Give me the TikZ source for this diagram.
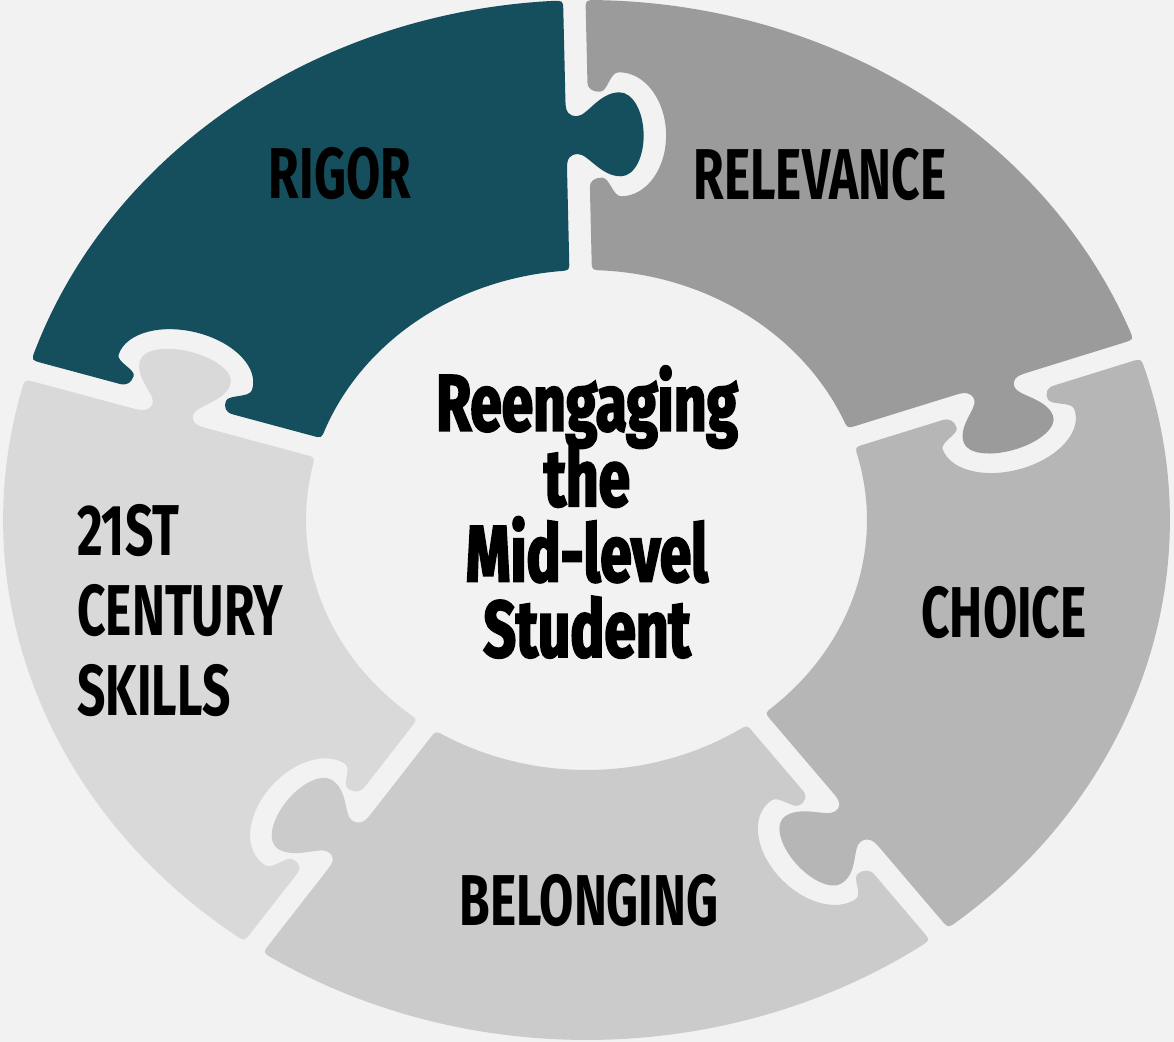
\documentclass[tikz,border=0pt]{standalone}
\usepackage{fontspec}
\setmainfont{Fira Sans}
\newfontfamily\labelfont[FakeStretch=0.69]{Fira Sans}
\newfontfamily\titlefont[FakeStretch=0.71,FakeBold=2.5]{Fira Sans}

\definecolor{bgcol}{HTML}{F2F2F2}
\definecolor{rigorcol}{HTML}{154F5D}
\definecolor{relevcol}{HTML}{9B9B9B}
\definecolor{choicecol}{HTML}{B6B6B6}
\definecolor{belongcol}{HTML}{CBCBCB}
\definecolor{skillcol}{HTML}{D9D9D9}

% one piece of the ring: #1 = angle of its clockwise edge (tab side), #2 = colour
\newcommand{\puzzlepiece}[2]{%
\fill[#2, rotate=#1]
  (4.5:250) .. controls (249.8,10) .. (258,10) -- (352,10)
  .. controls (362,10) and (366,7) .. (366,0)
  .. controls (366,-9) and (343,-20) .. (343,-38)
  .. controls (343,-50) and (362,-59) .. (385,-59)
  .. controls (408,-59) and (427,-50) .. (427,-38)
  .. controls (427,-20) and (404,-9) .. (404,0)
  .. controls (404,7) and (408,10) .. (418,10)
  -- (510,10) .. controls (519.9,10) .. (2.2:520)
  arc[start angle=2.2, end angle=69.8, radius=520]
  .. controls ([rotate=72]519.9,-10) .. ([rotate=72]510,-10)
  -- ([rotate=72]438,-10)
  .. controls ([rotate=72]431,-10) and ([rotate=72]428,-14) .. ([rotate=72]428,-21)
  .. controls ([rotate=72]428,-28) and ([rotate=72]447,-30) .. ([rotate=72]447,-38)
  .. controls ([rotate=72]447,-61) and ([rotate=72]419,-79) .. ([rotate=72]385,-79)
  .. controls ([rotate=72]351,-79) and ([rotate=72]323,-61) .. ([rotate=72]323,-38)
  .. controls ([rotate=72]323,-30) and ([rotate=72]342,-28) .. ([rotate=72]342,-21)
  .. controls ([rotate=72]342,-14) and ([rotate=72]339,-10) .. ([rotate=72]332,-10)
  -- ([rotate=72]258,-10) .. controls ([rotate=72]249.8,-10) .. (67.5:250)
  arc[start angle=67.5, end angle=4.5, radius=250] -- cycle;}

\begin{document}
\begin{tikzpicture}[x=0.5pt, y=0.5pt,
  lbl/.style={font=\labelfont\bfseries\fontsize{36}{40}\selectfont, inner sep=0, text=black},
  title/.style={font={\titlefont\bfseries\fontsize{40}{37.7}\selectfont\lineskiplimit-100pt\relax},
    inner sep=0, align=center}]

\useasboundingbox[fill=bgcol] (0,0) rectangle (1174,-1042);

\begin{scope}[shift={(586.5,-520)}, xscale=1.122]
\puzzlepiece{91.2}{rigorcol}
\puzzlepiece{19.2}{relevcol}
\puzzlepiece{-52.8}{choicecol}
\puzzlepiece{-124.8}{belongcol}
\puzzlepiece{163.2}{skillcol}
\end{scope}

\node[lbl] (rigor) at (340,-174) {RIGOR};
\node[lbl] (relevance) at (820,-175) {RELEVANCE};
\node[lbl] (choice) at (1004,-613) {CHOICE};
\node[lbl] (belonging) at (589,-901) {BELONGING};
\node[lbl, anchor=west, align=left] (skills) at (77,-611) {21ST\\CENTURY\\SKILLS};

\node[title] (student) at (587,-512) {Reengaging\\the\\Mid-level\\Student};

\end{tikzpicture}
\end{document}
